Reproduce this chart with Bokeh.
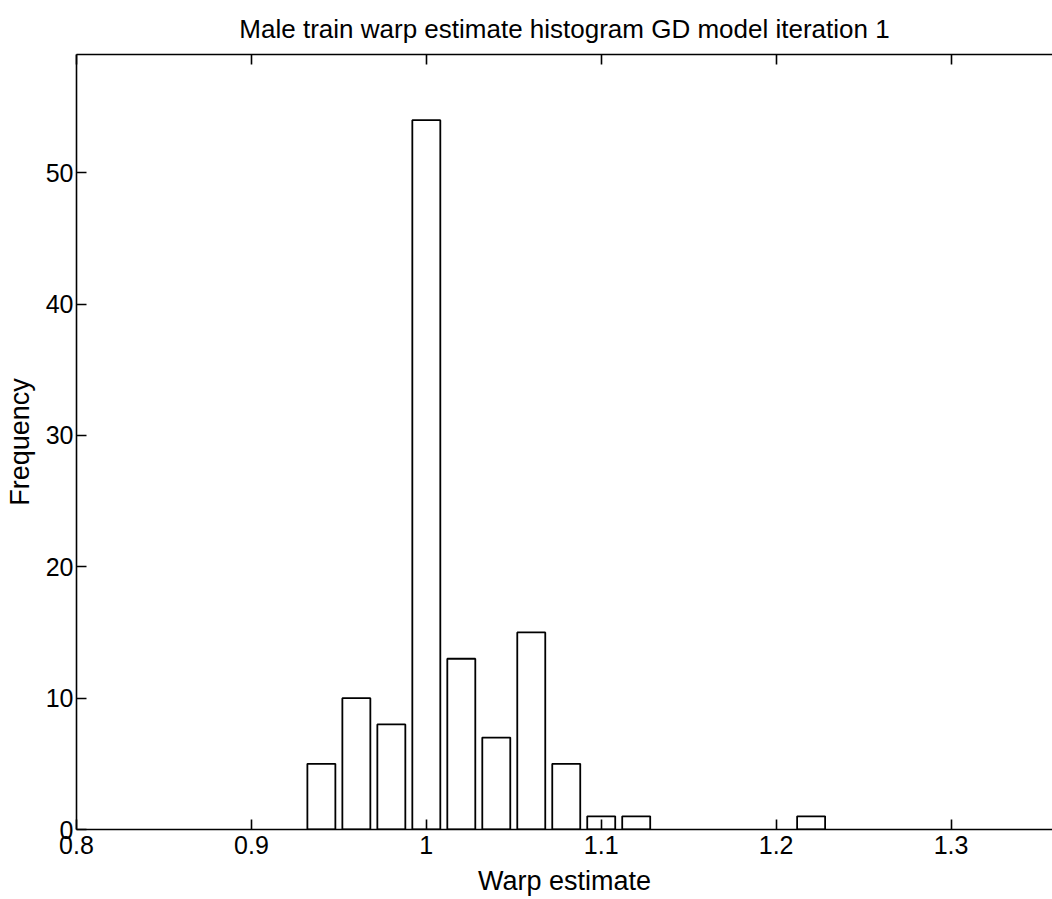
from bokeh.plotting import figure
from bokeh.models import LinearAxis, FixedTicker, Range1d, ColumnDataSource
from bokeh.embed import file_html
from bokeh.resources import INLINE

# ---- data ----
bin_centers = [0.94, 0.96, 0.98, 1.00, 1.02, 1.04, 1.06, 1.08, 1.10, 1.12,
               1.14, 1.16, 1.18, 1.20, 1.22]
counts = [5, 10, 8, 54, 13, 7, 15, 5, 1, 1, 0, 0, 0, 0, 1]
x_ticks = [0.8, 0.9, 1.0, 1.1, 1.2, 1.3]
x_tick_labels = ["0.8", "0.9", "1", "1.1", "1.2", "1.3"]
y_ticks = [0, 10, 20, 30, 40, 50]
y_tick_labels = ["0", "10", "20", "30", "40", "50"]
title_text = "Male train warp estimate histogram GD model iteration 1"
x_label = "Warp estimate"
y_label = "Frequency"

FONT = "Liberation Sans"
bar_width = 0.016

src = ColumnDataSource(dict(x=[c for c, n in zip(bin_centers, counts) if n > 0],
                            top=[n for n in counts if n > 0]))

p = figure(frame_width=976, frame_height=775,
           x_range=Range1d(0.8, 1.358), y_range=Range1d(0, 59),
           output_backend="svg", toolbar_location=None,
           min_border_left=76, min_border_right=0,
           min_border_top=54, min_border_bottom=70,
           background_fill_color="white", border_fill_color="white")

p.vbar(x="x", top="top", bottom=0, width=bar_width, source=src,
       fill_color="white", line_color="black", line_width=1.8)

p.grid.visible = False
p.outline_line_color = None

p.title.text = title_text
p.title.text_font = FONT
p.title.text_font_size = "26px"
p.title.text_font_style = "normal"
p.title.align = "center"
p.title.text_color = "black"
p.title.standoff = 22

xa = p.xaxis[0]
xa.ticker = FixedTicker(ticks=x_ticks)
xa.major_label_overrides = {t: l for t, l in zip(x_ticks, x_tick_labels)}
ya = p.yaxis[0]
ya.ticker = FixedTicker(ticks=y_ticks)
ya.major_label_overrides = {t: l for t, l in zip(y_ticks, y_tick_labels)}

for ax in (xa, ya):
    ax.major_tick_in = 10
    ax.major_tick_out = 0
    ax.minor_tick_in = 0
    ax.minor_tick_out = 0
    ax.axis_line_color = "black"
    ax.axis_line_width = 1.6
    ax.major_tick_line_color = "black"
    ax.major_tick_line_width = 1.6
    ax.major_label_text_font = FONT
    ax.major_label_text_font_size = "25px"
    ax.major_label_text_color = "black"
    ax.axis_label_text_font = FONT
    ax.axis_label_text_font_size = "27px"
    ax.axis_label_text_font_style = "normal"
    ax.axis_label_text_color = "black"

xa.axis_label = x_label
xa.major_label_standoff = 6
xa.axis_label_standoff = 9
ya.axis_label = y_label
ya.major_label_standoff = 3
ya.axis_label_standoff = 8

top_axis = LinearAxis(ticker=FixedTicker(ticks=x_ticks))
top_axis.major_tick_in = 10
top_axis.major_tick_out = 0
top_axis.minor_tick_in = 0
top_axis.minor_tick_out = 0
top_axis.major_label_overrides = {t: "" for t in x_ticks}
top_axis.major_label_text_font_size = "2px"
top_axis.major_label_standoff = 0
top_axis.axis_line_color = "black"
top_axis.axis_line_width = 1.6
top_axis.major_tick_line_width = 1.6
p.add_layout(top_axis, "above")

open("out.html", "w").write(file_html(p, INLINE))
